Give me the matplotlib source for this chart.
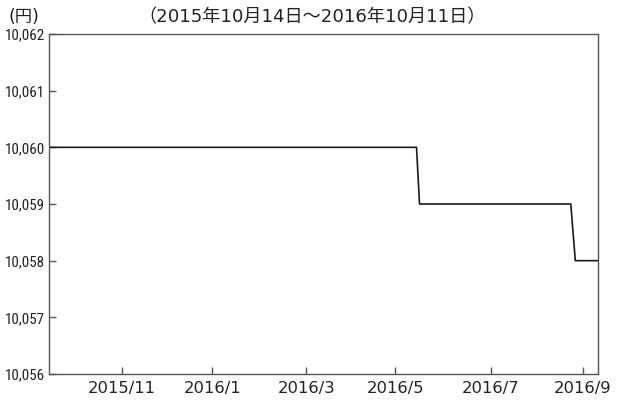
import matplotlib
matplotlib.use("Agg")
import matplotlib.pyplot as plt
import datetime as dt
from matplotlib import font_manager as fm

# data
dates = ["2015-10-14", "2016-06-13", "2016-06-15", "2016-09-23", "2016-09-26", "2016-10-11"]
values = [10060, 10060, 10059, 10059, 10058, 10058]
y_ticks = [10056, 10057, 10058, 10059, 10060, 10061, 10062]
x_tick_dates = ["2015-12-01", "2016-01-30", "2016-04-01", "2016-05-30", "2016-08-01", "2016-10-01"]
x_tick_labels = ["2015/11", "2016/1", "2016/3", "2016/5", "2016/7", "2016/9"]
title = "（2015年10月14日～2016年10月11日）"
unit = "(円)"

names = {f.name for f in fm.fontManager.ttflist}
ylab_font, ylab_size = 'Roboto', 9.6
for cand, sz in [('Liberation Sans Narrow', 11.2), ('Roboto Condensed', 10.8),
                 ('DejaVu Sans Condensed', 9.0)]:
    if cand in names:
        ylab_font, ylab_size = cand, sz
        break
fam = ['DejaVu Sans', 'Noto Sans CJK JP']
plt.rcParams['font.family'] = fam

d = [dt.datetime.fromisoformat(s) for s in dates]
fig = plt.figure(figsize=(6.21, 4.01), dpi=100)
ax = fig.add_axes([49/621, 1-374/401, (598-49)/621, (374-34)/401])
ax.plot(d, values, color='#1a1a1a', lw=1.2)
ax.set_xlim(dt.datetime(2015, 10, 14), dt.datetime(2016, 10, 11))
ax.set_ylim(10056, 10062)
ax.set_yticks(y_ticks)
ax.set_yticklabels([f"{v:,}" for v in y_ticks], family=[ylab_font, 'DejaVu Sans'], fontsize=ylab_size)
ax.set_xticks([dt.datetime.fromisoformat(s) for s in x_tick_dates])
ax.set_xticklabels(x_tick_labels, fontsize=11.8)
ax.tick_params(axis='both', direction='in', length=5, width=1, color='#555555',
               labelcolor='#222222')
ax.tick_params(axis='y', pad=3)
ax.tick_params(axis='x', pad=5)
for s in ax.spines.values():
    s.set_color('#555555')
    s.set_linewidth(1)
fig.text(8/621, 1-17/401, unit, fontsize=12.5, color='#222222', va='center', ha='left')
fig.text(312/621, 1-17/401, title, fontsize=13.1, color='#222222', va='center', ha='center')
fig.savefig("out.png", dpi=100)
